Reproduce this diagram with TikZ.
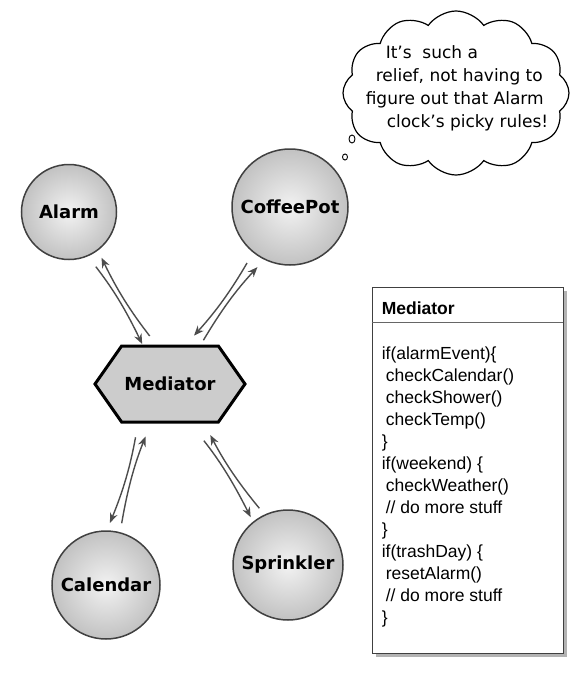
\documentclass[tikz,border=0pt]{standalone}
\usepackage{fontspec}
\setmainfont{Liberation Sans}
\newfontfamily\ballfont{DejaVu Sans}
\usetikzlibrary{shapes, shapes.geometric, shapes.symbols, shadows, calc, arrows.meta}
\definecolor{linkgray}{rgb}{0.3,0.3,0.3}

\begin{document}
\begin{tikzpicture}[x=1pt, y=-1pt,
        ball/.style={circle, draw=black!75, line width=1.5pt, inner color=gray!10, outer color=gray!48,
            minimum size=#1, inner sep=0, font=\ballfont\bfseries\fontsize{18}{20}\selectfont},
        link/.style={draw=linkgray, line width=1.4pt, -{Stealth[length=10pt, width=8pt]}},
        bubble/.style={ellipse, draw, line width=0.9pt, inner sep=0}]
            \useasboundingbox (0,0) rectangle (587,685);

            \node [ball=95]  (alarm)     at (69,212)  { Alarm };
            \node [ball=116] (coffeepot) at (290,207) { CoffeePot };
            \node [ball=108] (calendar)  at (106,585) { Calendar };
            \node [ball=110] (sprinkler) at (288,565) { Sprinkler };

            \node [signal, signal to=west and east, signal pointer angle=110, draw, line width=3pt,
                fill=gray!40, minimum width=150, minimum height=76, inner sep=0,
                font=\ballfont\bfseries\fontsize{18}{20}\selectfont] (med) at (170,384) { Mediator };

            \draw [link, shorten <=13, shorten >=1]  (alarm.-67) to[bend left=6] (med.125);
            \draw [link, shorten <=11, shorten >=8]  (med.109) to[bend left=6] (alarm.-53);
            \draw [link, shorten <=12, shorten >=12] (coffeepot.-129) to[bend left=6] (med.68);
            \draw [link, shorten <=5, shorten >=10]  (med.52) to[bend left=6] (coffeepot.-116);
            \draw [link, shorten <=14, shorten >=8]  (med.-129) to[bend left=6] (calendar.89);
            \draw [link, shorten <=9, shorten >=14]  (calendar.75) to[bend left=6] (med.-116);
            \draw [link, shorten <=22, shorten >=5]  (med.-63) to[bend left=6] (sprinkler.129);
            \draw [link, shorten <=8, shorten >=13]  (sprinkler.115) to[bend left=6] (med.-49);

            \node [cloud, draw, line width=1.2pt, cloud puffs=12, cloud puff arc=110, cloud ignores aspect,
                minimum width=226, minimum height=164, inner sep=0] (cloud) at (456,93) {};
            \node [align=left, font=\ballfont\fontsize{17}{23}\selectfont] (thought) at (457,88)
                {\hspace*{20pt}It’s~~such a\\ \hspace*{10pt}relief, not having to\\ figure out that Alarm\\ \hspace*{21pt}clock’s picky rules!};
            \node [bubble, minimum width=6, minimum height=8] (bubbleA) at (352,139) {};
            \node [bubble, minimum width=5, minimum height=6] (bubbleB) at (345,157) {};

            \node [draw=black!75, line width=0.8pt, fill=white, minimum width=191, minimum height=366,
                drop shadow={shadow xshift=4pt, shadow yshift=-4pt, opacity=0.6}] (box) at (467.5,470) {};
            \node [anchor=base west, inner sep=0, font=\bfseries\fontsize{17.5}{20}\selectfont] (boxtitle)
                at ($(box.north west)+(10,28)$) { Mediator };
            \draw [black!60, line width=0.8pt] ($(box.north west)+(0,36)$) -- ($(box.north east)+(0,36)$);
            \node [anchor=north west, align=left, inner sep=0, font=\fontsize{17.5}{22}\selectfont] (boxbody)
                at ($(box.north west)+(10,60)$)
                {if(alarmEvent)\{\\ \hspace*{4pt}checkCalendar()\\ \hspace*{4pt}checkShower()\\ \hspace*{4pt}checkTemp()\\ \}\\
                 if(weekend) \{\\ \hspace*{4pt}checkWeather()\\ \hspace*{4pt}// do more stuff\\ \}\\
                 if(trashDay) \{\\ \hspace*{4pt}resetAlarm()\\ \hspace*{4pt}// do more stuff\\ \}};

        \end{tikzpicture}
\end{document}
